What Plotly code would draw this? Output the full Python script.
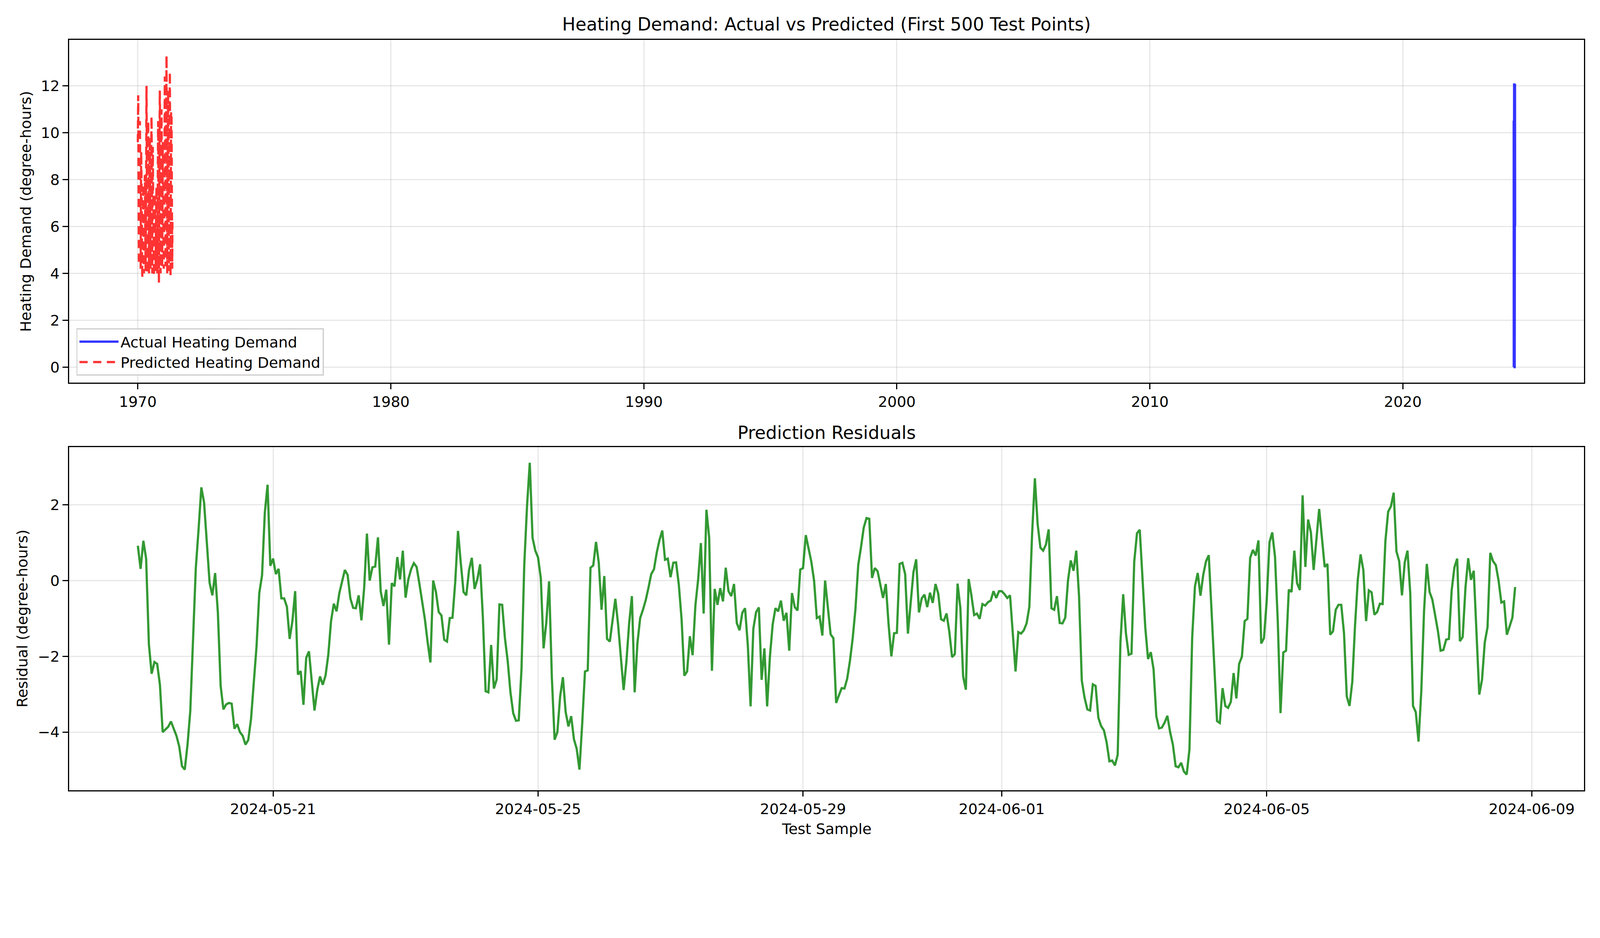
import numpy as np
import pandas as pd
import plotly.graph_objects as go

# test window: 500 hourly samples
start_time = "2024-05-18 23:00"
n_points = 500

# residuals (actual - predicted), read hour by hour off the lower panel
residual_vals = [
    0.92, 0.31, 1.05, 0.58, -1.68, -2.46, -2.15, -2.2, -2.75, -4.0,
    -3.93, -3.86, -3.72, -3.91, -4.1, -4.38, -4.9, -4.99, -4.33, -3.44,
    -1.46, 0.33, 1.35, 2.46, 2.06, 0.96, -0.06, -0.39, 0.2, -0.85,
    -2.78, -3.4, -3.27, -3.23, -3.25, -3.91, -3.79, -4.0, -4.1, -4.33,
    -4.21, -3.66, -2.62, -1.74, -0.33, 0.14, 1.79, 2.53, 0.39, 0.58,
    0.17, 0.31, -0.47, -0.47, -0.69, -1.54, -1.07, -0.28, -2.48, -2.39,
    -3.28, -2.04, -1.87, -2.67, -3.43, -2.89, -2.53, -2.75, -2.51, -1.96,
    -1.07, -0.61, -0.81, -0.33, 0.0, 0.28, 0.15, -0.47, -0.72, -0.73,
    -0.39, -1.05, -0.19, 1.24, 0.0, 0.35, 0.37, 1.14, -0.29, -0.67,
    -0.24, -1.69, -0.07, -0.15, 0.62, 0.03, 0.79, -0.45, 0.03, 0.30,
    0.46, 0.36, -0.08, -0.52, -1.02, -1.63, -2.16, 0.0, -0.3, -0.83,
    -0.92, -1.56, -1.61, -0.99, -0.98, -0.03, 1.31, 0.47, -0.30, -0.39,
    0.28, 0.60, -0.22, 0.03, 0.43, -0.96, -2.92, -2.95, -1.70, -2.85,
    -2.61, -0.63, -0.64, -1.52, -2.12, -2.95, -3.50, -3.70, -3.69, -2.34,
    0.41, 1.96, 3.11, 1.13, 0.79, 0.61, 0.06, -1.79, -1.10, -0.02,
    -2.56, -4.20, -4.0, -3.06, -2.55, -3.47, -3.85, -3.58, -4.19, -4.44,
    -4.99, -3.77, -2.40, -2.37, 0.34, 0.40, 1.02, 0.47, -0.77, 0.12,
    -1.54, -1.61, -1.02, -0.48, -1.16, -2.12, -2.89, -2.15, -1.13, -0.41,
    -2.95, -1.65, -0.99, -0.77, -0.52, -0.19, 0.17, 0.30, 0.74, 1.07,
    1.32, 0.55, 0.58, 0.09, 0.47, 0.48, -0.11, -1.02, -2.51, -2.40,
    -1.47, -1.97, -0.66, 0.03, 0.99, -0.87, 1.87, 1.13, -2.38, -0.22,
    -0.64, -0.20, -0.55, 0.34, -0.28, -0.41, -0.09, -1.12, -1.31, -0.85,
    -0.73, -1.71, -3.32, -1.27, -0.83, -0.71, -2.62, -1.79, -3.32, -2.01,
    -1.16, -0.73, -0.81, -0.53, -1.06, -0.85, -1.85, -0.33, -0.70, -0.79,
    0.29, 0.33, 1.20, 0.85, 0.50, 0.0, -0.99, -0.95, -1.45, 0.0,
    -0.74, -1.42, -1.52, -3.23, -3.03, -2.84, -2.85, -2.59, -2.12, -1.52,
    -0.74, 0.41, 0.88, 1.40, 1.65, 1.63, 0.07, 0.33, 0.25, -0.11,
    -0.46, -0.09, -1.16, -2.0, -1.39, -1.38, 0.44, 0.47, 0.17, -1.40,
    -0.55, 0.22, 0.56, -0.84, -0.47, -0.37, -0.70, -0.32, -0.59, -0.09,
    -0.35, -1.02, -1.06, -0.87, -1.35, -2.02, -1.94, -0.08, -0.72, -2.53,
    -2.88, 0.04, -0.39, -0.91, -0.87, -1.01, -0.62, -0.66, -0.57, -0.53,
    -0.28, -0.46, -0.28, -0.28, -0.36, -0.46, -0.39, -1.38, -2.40, -1.36,
    -1.40, -1.31, -1.13, -0.69, 1.24, 2.70, 1.49, 0.87, 0.79, 0.95,
    1.35, -0.73, -0.77, -0.41, -1.12, -1.13, -0.98, 0.0, 0.53, 0.26,
    0.79, -0.41, -2.64, -3.09, -3.40, -3.43, -2.74, -2.78, -3.62, -3.84,
    -3.95, -4.27, -4.77, -4.75, -4.88, -4.60, -1.63, -0.36, -1.40, -1.96,
    -1.93, 0.50, 1.25, 1.34, 0.03, -1.24, -2.07, -1.89, -2.34, -3.58,
    -3.90, -3.88, -3.75, -3.57, -4.0, -4.33, -4.90, -4.93, -4.81, -5.04,
    -5.12, -4.46, -1.49, -0.15, 0.20, -0.40, 0.15, 0.51, 0.67, -0.85,
    -2.18, -3.71, -3.76, -2.84, -3.31, -3.36, -3.20, -2.44, -3.11, -2.20,
    -2.01, -1.07, -1.01, 0.60, 0.81, 0.66, 1.06, -1.66, -1.52, -0.52,
    1.01, 1.27, 0.63, -1.07, -3.50, -1.90, -1.85, -0.24, -0.30, 0.79,
    -0.07, -0.25, 2.25, 0.36, 1.61, 1.27, 0.28, 1.13, 1.89, 1.13,
    0.36, 0.44, -1.43, -1.34, -0.77, -0.64, -0.64, -1.39, -3.06, -3.31,
    -2.67, -1.18, 0.03, 0.69, 0.28, -1.07, -0.26, -0.31, -0.90, -0.83,
    -0.61, -0.62, 1.05, 1.82, 1.96, 2.32, 0.77, 0.51, -0.39, 0.48,
    0.79, -0.33, -3.31, -3.47, -4.25, -2.92, -0.80, 0.44, -0.30, -0.50,
    -0.91, -1.32, -1.85, -1.83, -1.56, -1.54, -0.26, 0.35, 0.58, -1.60,
    -1.49, -0.19, 0.59, 0.02, 0.26, -1.24, -3.01, -2.62, -1.63, -1.23,
    0.73, 0.51, 0.41, 0.0, -0.58, -0.55, -1.43, -1.21, -0.98, -0.17,
]

# model output, one row per day (the first value is 23:00 on the 18th)
predicted_vals = [
    9.6,
    10.5, 10.8, 11.2, 11.6, 11.6, 11.4, 11.0, 10.1, 8.9, 7.8, 6.7, 5.7, 4.9, 4.4, 4.38, 4.9, 4.99, 5.1, 6.3, 7.4, 8.4, 9.2, 9.6, 10.0,
    9.5, 9.8, 10.2, 10.5, 10.5, 10.4, 10.0, 9.2, 8.2, 7.2, 6.2, 5.4, 4.7, 4.2, 4.33, 4.21, 4.2, 4.9, 5.9, 6.9, 7.7, 8.4, 8.9, 9.2,
    7.4, 7.6, 7.8, 8.0, 8.0, 7.9, 7.7, 7.2, 6.5, 5.9, 5.3, 4.7, 4.3, 4.0, 3.8, 3.8, 4.0, 4.4, 5.1, 5.7, 6.2, 6.7, 7.0, 7.2,
    7.2, 7.4, 7.6, 7.8, 7.8, 7.7, 7.5, 7.0, 6.5, 5.9, 5.3, 4.8, 4.5, 4.2, 4.0, 4.0, 4.2, 4.6, 5.1, 5.7, 6.2, 6.6, 6.9, 7.0,
    7.6, 7.8, 8.0, 8.2, 8.2, 8.1, 7.9, 7.4, 6.8, 6.2, 5.5, 5.0, 4.6, 4.3, 4.1, 4.1, 4.3, 4.7, 5.3, 6.0, 6.5, 6.9, 7.2, 7.4,
    10.8, 11.2, 11.6, 11.6, 12.0, 11.8, 11.4, 10.4, 9.2, 8.0, 6.8, 5.8, 5.0, 4.4, 4.0, 4.0, 4.4, 5.2, 6.4, 7.6, 8.6, 9.0, 10.0, 10.4,
    9.5, 9.8, 10.2, 10.5, 10.5, 10.4, 10.0, 9.1, 8.1, 7.1, 6.1, 5.2, 4.5, 4.19, 4.44, 4.99, 4.0, 4.7, 5.7, 6.8, 7.6, 8.3, 8.8, 9.1,
    9.0, 9.2, 9.5, 9.8, 9.8, 9.7, 9.4, 8.7, 7.8, 7.0, 6.2, 5.4, 4.9, 4.5, 4.2, 4.2, 4.5, 5.0, 5.9, 6.7, 7.5, 8.0, 8.4, 8.7,
    9.7, 10.0, 10.4, 10.7, 10.7, 10.6, 10.2, 9.4, 8.4, 7.4, 6.3, 5.5, 4.8, 4.3, 4.0, 4.0, 4.3, 5.0, 6.0, 7.0, 7.9, 8.6, 9.0, 9.4,
    7.0, 7.1, 7.3, 7.5, 7.5, 7.4, 7.2, 6.8, 6.2, 5.7, 5.2, 4.7, 4.3, 4.1, 3.9, 3.9, 4.1, 4.4, 5.0, 5.5, 6.0, 6.3, 6.6, 6.8,
    6.9, 7.1, 7.2, 7.4, 7.4, 7.3, 7.1, 6.7, 6.3, 5.8, 5.3, 4.8, 4.5, 4.3, 4.1, 4.1, 4.3, 4.6, 5.1, 5.6, 6.0, 6.3, 6.6, 6.7,
    7.2, 7.3, 7.5, 7.7, 7.7, 7.6, 7.4, 7.0, 6.4, 5.9, 5.3, 4.8, 4.4, 4.2, 4.0, 4.0, 4.2, 4.6, 5.1, 5.7, 6.2, 6.5, 6.8, 7.0,
    9.5, 9.8, 10.2, 10.5, 10.5, 10.4, 9.9, 9.1, 8.1, 7.1, 6.0, 5.1, 4.4, 4.0, 3.6, 3.6, 4.0, 4.6, 5.7, 6.7, 7.6, 8.3, 8.8, 9.1,
    10.6, 11.0, 11.4, 11.8, 11.8, 11.6, 11.2, 10.2, 9.1, 7.9, 6.7, 5.7, 4.9, 4.4, 4.0, 4.0, 4.4, 5.2, 6.3, 7.5, 8.5, 9.3, 9.9, 10.2,
    10.0, 10.3, 10.7, 11.0, 11.0, 10.9, 10.5, 9.6, 8.6, 7.6, 6.6, 5.7, 5.0, 4.5, 4.27, 4.77, 4.75, 5.2, 6.2, 7.3, 8.1, 8.8, 9.3, 9.6,
    7.7, 8.0, 8.2, 8.4, 8.4, 8.3, 8.1, 7.5, 6.9, 6.2, 5.5, 5.0, 4.5, 4.2, 4.33, 4.9, 4.93, 4.81, 5.3, 6.0, 6.6, 7.0, 7.3, 7.5,
    11.2, 11.6, 11.55, 11.4, 12.4, 12.2, 11.8, 10.8, 9.6, 8.4, 7.1, 6.1, 5.3, 4.7, 4.3, 4.3, 4.7, 5.5, 6.7, 8.0, 9.0, 9.8, 10.4, 10.8,
    11.9, 11.05, 10.8, 11.45, 13.15, 13.3, 12.6, 11.4, 10.1, 8.7, 7.3, 6.1, 5.1, 4.5, 4.0, 4.0, 4.5, 5.4, 6.8, 8.2, 9.4, 10.3, 11.0, 11.4,
    10.7, 11.0, 11.4, 11.8, 11.8, 11.7, 11.2, 10.3, 9.1, 8.0, 6.8, 5.8, 5.0, 4.5, 4.1, 4.1, 4.5, 5.3, 6.4, 7.6, 8.6, 9.3, 9.75, 10.3,
    11.3, 11.7, 11.6, 11.3, 12.4, 12.6, 11.9, 10.9, 9.6, 8.3, 7.0, 5.8, 4.9, 4.3, 3.9, 3.9, 4.3, 5.2, 6.5, 7.8, 8.9, 9.8, 10.4, 10.9,
    9.8, 10.1, 10.5, 10.8, 10.8, 10.7, 10.3, 9.5, 8.5, 7.5, 6.5, 5.7, 5.0, 4.5, 4.2, 4.2, 4.5, 5.2, 6.2,
]

residual_ticks = ["2024-05-21", "2024-05-25", "2024-05-29", "2024-06-01", "2024-06-05", "2024-06-09"]

assert len(residual_vals) == n_points and len(predicted_vals) == n_points

timestamps = pd.date_range(start_time, periods=n_points, freq="h")
predicted = np.array(predicted_vals)
residuals = np.array(residual_vals)
actual = np.round(predicted + residuals, 2)

# predictions were drawn against their position, read as days since 1970
pred_x = pd.to_datetime(np.arange(n_points), unit="D")


def padded(lo, hi, frac=0.05):
    """Return (lo, hi) widened by frac of the span on both sides."""
    span = hi - lo
    return lo - span * frac, hi + span * frac


# the page is shown at ~1.1 device px per css px, with the default 8px body margin
SCALE = 4500 / 4096
BODY = 8
W, H = 4096 - 2 * BODY, 2184 - 2 * BODY


def fx(px):
    """Screenshot x pixel -> paper fraction."""
    return (px / SCALE - BODY) / W


def fy(px):
    """Screenshot y pixel -> paper fraction."""
    return 1 - (px / SCALE - BODY) / H


def sz(px):
    return px / SCALE


FONT = "DejaVu Sans"
top_dom = [fy(1076), fy(112)]
bot_dom = [fy(2221), fy(1257)]
x_dom = [fx(194), fx(4455)]

grid_col = "rgba(176,176,176,0.3)"
axis_style = dict(showline=True, linecolor="black", linewidth=sz(3.3), mirror=True,
                  ticks="outside", ticklen=sz(14.6), tickwidth=sz(3.3), tickcolor="black",
                  showgrid=True, gridcolor=grid_col, gridwidth=sz(3.3), zeroline=False,
                  tickfont=dict(family=FONT, size=sz(41.7), color="black"), automargin=False)

fig = go.Figure()
fig.add_trace(go.Scatter(x=timestamps, y=actual, mode="lines", name="Actual Heating Demand",
                         line=dict(color="rgba(0,0,255,0.8)", width=sz(6.25)), xaxis="x", yaxis="y"))
fig.add_trace(go.Scatter(x=pred_x, y=predicted, mode="lines", name="Predicted Heating Demand",
                         line=dict(color="rgba(255,0,0,0.8)", width=sz(6.25), dash="21px,14px"),
                         xaxis="x", yaxis="y"))
fig.add_trace(go.Scatter(x=timestamps, y=residuals, mode="lines", showlegend=False,
                         line=dict(color="rgba(0,128,0,0.8)", width=sz(6.25)), xaxis="x2", yaxis="y2"))

top_x_range = padded(pred_x.min(), timestamps.max())
top_y_range = padded(min(actual.min(), predicted.min()), max(actual.max(), predicted.max()))
bot_x_range = padded(timestamps.min(), timestamps.max())
bot_y_range = padded(residuals.min(), residuals.max())

fig.update_layout(
    width=W, height=H,
    margin=dict(l=0, r=0, t=0, b=0),
    paper_bgcolor="white", plot_bgcolor="white",
    font=dict(family=FONT, size=sz(41.7), color="black"),
    xaxis=dict(domain=x_dom, anchor="y", type="date", range=list(top_x_range),
               tick0="1970-01-01", dtick="M120", tickformat="%Y", **axis_style),
    yaxis=dict(domain=top_dom, anchor="x", range=list(top_y_range), dtick=2, **axis_style),
    xaxis2=dict(domain=x_dom, anchor="y2", type="date", range=list(bot_x_range),
                tickvals=residual_ticks, ticktext=residual_ticks, **axis_style),
    yaxis2=dict(domain=bot_dom, anchor="x2", range=list(bot_y_range), dtick=2, **axis_style),
    legend=dict(x=fx(215), y=fy(1056), xanchor="left", yanchor="bottom",
                bgcolor="rgba(255,255,255,0.8)", bordercolor="#cccccc", borderwidth=sz(3),
                itemwidth=100, font=dict(family=FONT, size=sz(41.7), color="black")),
    showlegend=True,
)

x_mid = (x_dom[0] + x_dom[1]) / 2
labels = [
    dict(text="Heating Demand: Actual vs Predicted (First 500 Test Points)", x=x_mid, y=fy(69),
         size=sz(50), angle=0),
    dict(text="Prediction Residuals", x=x_mid, y=fy(1217), size=sz(50), angle=0),
    dict(text="Heating Demand (degree-hours)", x=fx(72), y=sum(top_dom) / 2, size=sz(41.7), angle=-90),
    dict(text="Residual (degree-hours)", x=fx(63), y=sum(bot_dom) / 2, size=sz(41.7), angle=-90),
    dict(text="Test Sample", x=x_mid, y=fy(2330), size=sz(41.7), angle=0),
]
for lab in labels:
    fig.add_annotation(text=lab["text"], x=lab["x"], y=lab["y"], xref="paper", yref="paper",
                       xanchor="center", yanchor="middle", showarrow=False, textangle=lab["angle"],
                       font=dict(family=FONT, size=lab["size"], color="black"))

fig.write_html("out.html", config={"displayModeBar": False})
